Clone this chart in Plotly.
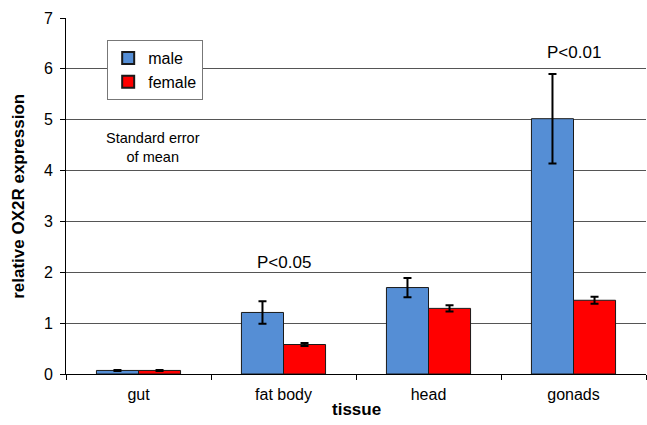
import plotly.graph_objects as go

tissues = ["gut", "fat body", "head", "gonads"]
male = [0.07, 1.21, 1.70, 5.02]
male_err = [0.01, 0.22, 0.19, 0.88]
female = [0.07, 0.58, 1.29, 1.45]
female_err = [0.01, 0.03, 0.06, 0.07]
y_ticks = [0, 1, 2, 3, 4, 5, 6, 7]

FONT = "Liberation Sans, Arial, sans-serif"
MALE_C = "#558ED5"
FEMALE_C = "#FF0000"

fig = go.Figure()
fig.add_trace(go.Bar(
    name="male", x=tissues, y=male, showlegend=False,
    marker=dict(color=MALE_C, line=dict(color="#1a1a1a", width=1)),
    error_y=dict(type="data", array=male_err, color="black", thickness=2, width=4),
))
fig.add_trace(go.Bar(
    name="female", x=tissues, y=female, showlegend=False,
    marker=dict(color=FEMALE_C, line=dict(color="#1a1a1a", width=1)),
    error_y=dict(type="data", array=female_err, color="black", thickness=2, width=4),
))
# legend entries with small square symbols
for nm, c in [("male", MALE_C), ("female", FEMALE_C)]:
    fig.add_trace(go.Scatter(
        name=nm, x=[None], y=[None], mode="markers",
        marker=dict(symbol="square", size=7, color=c, line=dict(color="#1a1a1a", width=1)),
    ))

fig.add_annotation(x="fat body", y=2.2, text="P<0.05", showarrow=False,
                   font=dict(size=17, color="black", family=FONT), yanchor="middle")
fig.add_annotation(x="gonads", y=6.32, text="P<0.01", showarrow=False,
                   font=dict(size=17, color="black", family=FONT), yanchor="middle")
fig.add_annotation(x=0.1, y=4.46, text="Standard error<br>of mean", showarrow=False,
                   font=dict(size=14.5, color="black", family=FONT), yanchor="middle")
fig.add_annotation(xref="paper", yref="paper", x=0.5, y=-0.101, text="<b>tissue</b>",
                   showarrow=False, font=dict(size=17, color="black", family=FONT),
                   yanchor="middle")
fig.add_annotation(xref="paper", yref="paper", x=-0.083, y=0.5,
                   text="<b>relative OX2R expression</b>", textangle=-90,
                   showarrow=False, font=dict(size=17, color="black", family=FONT),
                   xanchor="center", yanchor="middle")

fig.update_layout(
    width=647, height=425,
    margin=dict(l=66, r=1, t=18, b=51, autoexpand=False),
    paper_bgcolor="white", plot_bgcolor="white",
    barmode="group", bargap=0.42, bargroupgap=0,
    font=dict(family=FONT, size=16, color="black"),
    showlegend=True,
    legend=dict(x=0.071, y=0.938, xanchor="left", yanchor="top",
                bordercolor="#777", borderwidth=1, bgcolor="white",
                font=dict(size=16), tracegroupgap=6, itemwidth=30,
                itemsizing="constant"),
    xaxis=dict(
        automargin=False,
        showline=True, linecolor="black", linewidth=1,
        ticks="outside", ticklen=5, tickcolor="black", tickson="boundaries",
        ticklabelstandoff=6,
        showgrid=False,
    ),
    yaxis=dict(
        automargin=False,
        range=[0, 7], tickvals=y_ticks,
        showline=True, linecolor="black", linewidth=1,
        ticks="outside", ticklen=5, tickcolor="black",
        ticklabelstandoff=4,
        showgrid=True, gridcolor="#555", gridwidth=1,
        zeroline=False,
    ),
)

fig.write_html("out.html", config={"displayModeBar": False},
               post_script="document.body.style.margin='0';document.body.style.overflow='hidden';")
